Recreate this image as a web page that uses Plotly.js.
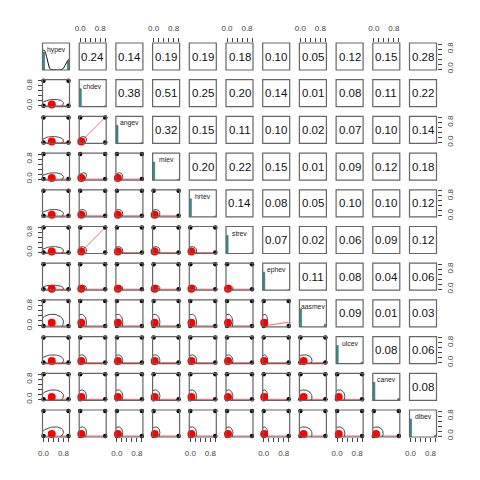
<!DOCTYPE html>
<html><head><meta charset="utf-8">
<script src="https://cdn.plot.ly/plotly-3.0.1.min.js"></script>
<style>html,body{margin:0;padding:0;background:#fff}#chart{width:480px;height:480px}</style>
</head><body><div id="chart"></div>
<script>
const variables = ['hypev','chdev','angev','miev','hrtev','strev','ephev','aasmev','ulcev','canev','dibev'];
const proportionEver = [0.33,0.045,0.04,0.045,0.045,0.04,0.02,0.13,0.065,0.09,0.085];
const corHypev  = [0.24,0.14,0.19,0.19,0.18,0.10,0.05,0.12,0.15,0.28];
const corChdev  = [0.38,0.51,0.25,0.20,0.14,0.01,0.08,0.11,0.22];
const corAngev  = [0.32,0.15,0.11,0.10,0.02,0.07,0.10,0.14];
const corMiev   = [0.20,0.22,0.15,0.01,0.09,0.12,0.18];
const corHrtev  = [0.14,0.08,0.05,0.10,0.10,0.12];
const corStrev  = [0.07,0.02,0.06,0.09,0.12];
const corEphev  = [0.11,0.08,0.04,0.06];
const corAasmev = [0.09,0.01,0.03];
const corUlcev  = [0.08,0.06];
const corCanev  = [0.08];
const binaryValues = [0,1];
// smoothed (lowess) value at x=1 for each lower panel "row|col"; default 0
const smoothEndOverrides = {'angev|chdev':1.0,'strev|chdev':1.0,'aasmev|ephev':0.15};
const hypevDensityX = [-0.04,0,0.04,0.08,0.12,0.16,0.2,0.24,0.3,0.4,0.5,0.6,0.7,0.76,0.8,0.86,0.92,0.98,1.04];
const hypevDensityY = [1.05,1.1,1.08,0.98,0.75,0.47,0.24,0.09,0.02,0,0,0,0.01,0.04,0.1,0.25,0.42,0.55,0.6];
const tickValues = [0,0.2,0.4,0.6,0.8,1.0];
const tickLabels = ['0.0','','','','0.8',''];

const corRows = [corHypev,corChdev,corAngev,corMiev,corHrtev,corStrev,corEphev,corAasmev,corUlcev,corCanev];
function cor(i,j){ if(i>j){const t=i;i=j;j=t;} return corRows[i][j-i-1]; }

const N = variables.length;
const W = 480, H = 480;
const left0 = 42.5, top0 = 43, pitch = 36.7, size = 27;
const FONT = 'Liberation Sans, Arial, Helvetica, sans-serif';
const xid = j => j===0 ? 'x' : 'x'+(j+1);
const yid = i => i===0 ? 'y' : 'y'+(i+1);
const xkey = j => j===0 ? 'xaxis' : 'xaxis'+(j+1);
const ykey = i => i===0 ? 'yaxis' : 'yaxis'+(i+1);
const xdom = j => [(left0+j*pitch)/W, (left0+j*pitch+size)/W];
const ydom = i => [1-(top0+i*pitch+size)/H, 1-(top0+i*pitch)/H];

const layout = {
  width: W, height: H, margin:{l:0,r:0,t:0,b:0},
  paper_bgcolor:'#fff', plot_bgcolor:'rgba(0,0,0,0)', showlegend:false,
  font:{family:FONT, color:'#333'},
  shapes:[], annotations:[]
};
const axisCommon = {
  range:[-0.04,1.04], showgrid:false, zeroline:false, showline:false,
  tickmode:'array', tickvals:tickValues, ticktext:tickLabels,
  ticks:'outside', ticklen:4, tickwidth:1, tickcolor:'#444',
  tickfont:{family:FONT, size:8, color:'#444'}, fixedrange:true, automargin:false
};
for(let j=0;j<N;j++){
  const bottom = j%2===0;
  layout[xkey(j)] = Object.assign({}, axisCommon, {
    domain: xdom(j), anchor: bottom ? yid(N-1) : yid(0), side: bottom ? 'bottom' : 'top',
    ticklabelstandoff: 4
  });
}
for(let i=0;i<N;i++){
  const right = i%2===0;
  layout[ykey(i)] = Object.assign({}, axisCommon, {
    domain: ydom(i), anchor: right ? xid(N-1) : xid(0), side: right ? 'right' : 'left',
    tickangle: -90, ticklabelstandoff: 2
  });
}
for(let j=0;j<N;j++){
  layout['yaxis'+(N+1+j)] = {domain: ydom(j), range:[0,1.5], anchor: xid(j), visible:false, fixedrange:true, showgrid:false, zeroline:false};
}

const traces = [];
// make sure every row/column axis exists
for(let i=0;i<N;i++){
  traces.push({type:'scatter', mode:'markers', x:[], y:[], xaxis:xid(i), yaxis:yid(i), hoverinfo:'skip'});
}
for(let i=0;i<N;i++){
  for(let j=0;j<N;j++){
    layout.shapes.push({type:'rect', xref:xid(j)+' domain', yref:yid(i)+' domain', x0:0,x1:1,y0:0,y1:1,
      line:{color:'#666', width:1.2}, fillcolor:'rgba(0,0,0,0)', layer:'above'});
    if(i===j){
      const p = proportionEver[j];
      const counts = [1-p, p];
      const mx = Math.max(...counts);
      traces.push({type:'bar', x:binaryValues, y:counts.map(c=>c/mx), width:0.09,
        xaxis:xid(j), yaxis:'y'+(N+1+j),
        marker:{color:'#2e9494', line:{color:'#1d5c5c', width:0.5}}, hoverinfo:'skip'});
      if(j===0){
        traces.push({type:'scatter', mode:'lines', x:hypevDensityX, y:hypevDensityY,
          xaxis:xid(j), yaxis:'y'+(N+1+j), line:{color:'#111', width:1}, hoverinfo:'skip'});
      }
      layout.annotations.push({text:variables[j], xref:xid(j)+' domain', yref:yid(j)+' domain',
        x:0.5, y:1, yanchor:'top', xanchor:'center', yshift:-1, showarrow:false,
        font:{family:FONT, size:6.8, color:'#222'}});
    } else if(i<j){
      layout.annotations.push({text:cor(i,j).toFixed(2), xref:xid(j)+' domain', yref:yid(i)+' domain',
        x:0.5, y:0.5, xanchor:'center', yanchor:'middle', showarrow:false,
        font:{family:FONT, size:11.5, color:'#111'}});
    } else {
      const xa = xid(j), ya = yid(i);
      const key = variables[i]+'|'+variables[j];
      const yEnd = (key in smoothEndOverrides) ? smoothEndOverrides[key] : 0;
      traces.push({type:'scatter', mode:'lines', x:binaryValues, y:[0, yEnd], xaxis:xa, yaxis:ya,
        line:{color:'rgba(255,40,40,0.7)', width:1}, hoverinfo:'skip'});
      const mxv = proportionEver[j], myv = proportionEver[i];
      const xs = Math.sqrt(mxv*(1-mxv)), ys = Math.sqrt(myv*(1-myv));
      const r = cor(i,j);
      const th = (r!==0 ? Math.sign(r) : 1)/Math.SQRT2;
      const a = Math.sqrt(1+r), b = Math.sqrt(1-r);
      const ex=[], ey=[];
      for(let k=0;k<=60;k++){
        const ang = k*2*Math.PI/60, c=Math.cos(ang), s=Math.sin(ang);
        ex.push((c*a*th - s*b*th)*xs + mxv);
        ey.push((c*a*th + s*b*th)*ys + myv);
      }
      traces.push({type:'scatter', mode:'lines', x:ex, y:ey, xaxis:xa, yaxis:ya,
        line:{color:'#333', width:0.9}, hoverinfo:'skip'});
      const px=[], py=[];
      binaryValues.forEach(u=>binaryValues.forEach(v=>{px.push(u); py.push(v);}));
      traces.push({type:'scatter', mode:'markers', x:px, y:py, xaxis:xa, yaxis:ya, cliponaxis:false,
        marker:{color:'#000', size:4.5}, hoverinfo:'skip'});
      traces.push({type:'scatter', mode:'markers', x:[mxv], y:[myv], xaxis:xa, yaxis:ya, cliponaxis:false,
        marker:{color:'#ff0000', size:8}, hoverinfo:'skip'});
    }
  }
}
Plotly.newPlot('chart', traces, layout, {staticPlot:true, displayModeBar:false});
</script>
</body></html>
